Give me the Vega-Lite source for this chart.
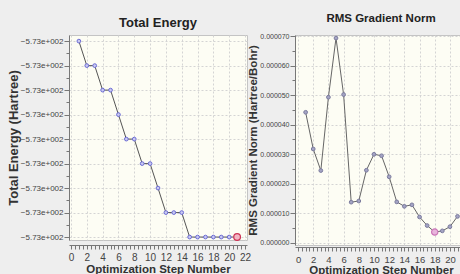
{
  "$schema": "https://vega.github.io/schema/vega-lite/v6.json",
  "background": "#eeeeee",
  "padding": {"left": 6, "top": 12, "right": 0, "bottom": 0},
  "spacing": -5,
  "datasets": {
    "energy": [
      {"step": 1, "energy": -572.996},
      {"step": 2, "energy": -572.9965},
      {"step": 3, "energy": -572.9965},
      {"step": 4, "energy": -572.997},
      {"step": 5, "energy": -572.997},
      {"step": 6, "energy": -572.9975},
      {"step": 7, "energy": -572.998},
      {"step": 8, "energy": -572.998},
      {"step": 9, "energy": -572.9985},
      {"step": 10, "energy": -572.9985},
      {"step": 11, "energy": -572.999},
      {"step": 12, "energy": -572.9995},
      {"step": 13, "energy": -572.9995},
      {"step": 14, "energy": -572.9995},
      {"step": 15, "energy": -573.0},
      {"step": 16, "energy": -573.0},
      {"step": 17, "energy": -573.0},
      {"step": 18, "energy": -573.0},
      {"step": 19, "energy": -573.0},
      {"step": 20, "energy": -573.0},
      {"step": 21, "energy": -573.0}
    ],
    "rms": [
      {"step": 1, "rms": 0.0000442},
      {"step": 2, "rms": 0.0000318},
      {"step": 3, "rms": 0.0000245},
      {"step": 4, "rms": 0.0000493},
      {"step": 5, "rms": 0.0000693},
      {"step": 6, "rms": 0.0000502},
      {"step": 7, "rms": 0.0000138},
      {"step": 8, "rms": 0.0000142},
      {"step": 9, "rms": 0.0000246},
      {"step": 10, "rms": 0.00003},
      {"step": 11, "rms": 0.0000295},
      {"step": 12, "rms": 0.0000224},
      {"step": 13, "rms": 0.0000139},
      {"step": 14, "rms": 0.0000124},
      {"step": 15, "rms": 0.0000129},
      {"step": 16, "rms": 0.0000088},
      {"step": 17, "rms": 0.0000059},
      {"step": 18, "rms": 0.0000037},
      {"step": 19, "rms": 0.0000041},
      {"step": 20, "rms": 0.0000055},
      {"step": 21, "rms": 0.000009}
    ]
  },
  "config": {
    "view": {"stroke": "#c4c4c4", "fill": "#fdfdf4", "strokeWidth": 1},
    "axis": {
      "labelFont": "Liberation Sans",
      "titleFont": "Liberation Sans",
      "titleFontWeight": "bold",
      "titleColor": "#333333",
      "labelColor": "#444444",
      "domainColor": "#777777",
      "tickColor": "#777777",
      "gridColor": "#d4d4d4",
      "gridDash": [2, 2],
      "gridWidth": 1
    },
    "title": {"font": "Liberation Sans", "fontWeight": "bold", "color": "#222222", "anchor": "middle"}
  },
  "hconcat": [
    {
      "title": {"text": "Total Energy", "fontSize": 13, "offset": 5},
      "width": 178,
      "height": 205,
      "data": {"name": "energy"},
      "layer": [
        {
          "mark": {"type": "line", "color": "#555555", "strokeWidth": 1},
          "encoding": {
            "x": {
              "field": "step", "type": "quantitative",
              "scale": {"domain": [-0.25, 22.25], "nice": false, "zero": false},
              "axis": {
                "title": "Optimization Step Number", "titleFontSize": 11.5, "titlePadding": 1,
                "values": [0,0.5,1,1.5,2,2.5,3,3.5,4,4.5,5,5.5,6,6.5,7,7.5,8,8.5,9,9.5,10,10.5,11,11.5,12,12.5,13,13.5,14,14.5,15,15.5,16,16.5,17,17.5,18,18.5,19,19.5,20,20.5,21,21.5,22],
                "labelExpr": "datum.value % 2 == 0 ? format(datum.value, 'd') : ''",
                "grid": false, "offset": 5, "tickSize": 4, "labelPadding": 3, "labelFontSize": 10, "labelFlush": false
              }
            },
            "y": {
              "field": "energy", "type": "quantitative",
              "scale": {"domain": [-573.00006, -572.995875], "nice": false, "zero": false},
              "axis": {
                "title": "Total Energy (Hartree)", "titleFontSize": 13, "titlePadding": 0,
                "values": [-573.0, -572.9995, -572.999, -572.9985, -572.998, -572.9975, -572.997, -572.9965, -572.996],
                "labelExpr": "replace(format(datum.value, '.2e'), 'e+2', 'e+002')",
                "grid": true, "tickSize": 5, "labelPadding": 1, "labelFontSize": 8
              }
            }
          }
        },
        {
          "mark": {"type": "point", "shape": "circle", "filled": true, "fill": "#c9c9f2", "stroke": "#6b6bd4", "strokeWidth": 1, "size": 14, "opacity": 1},
          "encoding": {
            "x": {
              "field": "step", "type": "quantitative",
              "axis": {"orient": "bottom", "values": [0,2,4,6,8,10,12,14,16,18,20,22], "grid": true, "labels": false, "ticks": false, "domain": false, "title": null}
            },
            "y": {
              "field": "energy", "type": "quantitative",
              "axis": {"orient": "left", "values": [-572.99975, -572.99925, -572.99875, -572.99825, -572.99775, -572.99725, -572.99675, -572.99625], "grid": false, "labels": false, "domain": false, "tickSize": 3, "title": null}
            }
          }
        },
        {
          "transform": [{"filter": "datum.step == 21"}],
          "mark": {"type": "point", "shape": "circle", "filled": true, "fill": "#f2b6c4", "stroke": "#cc3355", "strokeWidth": 1.2, "size": 45, "opacity": 1},
          "encoding": {
            "x": {"field": "step", "type": "quantitative", "axis": null},
            "y": {"field": "energy", "type": "quantitative", "axis": null}
          }
        }
      ],
      "resolve": {"axis": {"x": "independent", "y": "independent"}}
    },
    {
      "title": {"text": "RMS Gradient Norm", "fontSize": 11.5, "offset": 8},
      "width": 172,
      "height": 210,
      "data": {"name": "rms"},
      "layer": [
        {
          "mark": {"type": "line", "color": "#666666", "strokeWidth": 1},
          "encoding": {
            "x": {
              "field": "step", "type": "quantitative",
              "scale": {"domain": [-0.4, 22.25], "nice": false, "zero": false},
              "axis": {
                "title": "Optimization Step Number", "titleFontSize": 11.5, "titlePadding": 1,
                "values": [0,0.5,1,1.5,2,2.5,3,3.5,4,4.5,5,5.5,6,6.5,7,7.5,8,8.5,9,9.5,10,10.5,11,11.5,12,12.5,13,13.5,14,14.5,15,15.5,16,16.5,17,17.5,18,18.5,19,19.5,20,20.5,21,21.5,22],
                "labelExpr": "datum.value % 2 == 0 ? format(datum.value, 'd') : ''",
                "grid": false, "offset": 2, "tickSize": 4, "labelPadding": 3, "labelFontSize": 9.5, "labelFlush": false
              }
            },
            "y": {
              "field": "rms", "type": "quantitative",
              "scale": {"domain": [-0.00000068, 0.00007034], "nice": false, "zero": false},
              "axis": {
                "title": "RMS Gradient Norm (Hartree/Bohr)", "titleFontSize": 11.5, "titlePadding": 1,
                "values": [0, 0.00001, 0.00002, 0.00003, 0.00004, 0.00005, 0.00006, 0.00007],
                "format": ".6f",
                "grid": true, "tickSize": 5, "labelPadding": 1, "labelFontSize": 7
              }
            }
          }
        },
        {
          "mark": {"type": "point", "shape": "circle", "filled": true, "fill": "#a4a4c4", "stroke": "#7c7c9e", "strokeWidth": 1, "size": 14, "opacity": 1},
          "encoding": {
            "x": {
              "field": "step", "type": "quantitative",
              "axis": {"orient": "bottom", "values": [0,2,4,6,8,10,12,14,16,18,20,22], "grid": true, "labels": false, "ticks": false, "domain": false, "title": null}
            },
            "y": {
              "field": "rms", "type": "quantitative",
              "axis": {"orient": "left", "values": [0.000005, 0.000015, 0.000025, 0.000035, 0.000045, 0.000055, 0.000065], "grid": false, "labels": false, "domain": false, "tickSize": 3, "title": null}
            }
          }
        },
        {
          "transform": [{"filter": "datum.step == 18"}],
          "mark": {"type": "point", "shape": "circle", "filled": true, "fill": "#e8b4dc", "stroke": "#cc77b8", "strokeWidth": 1.2, "size": 40, "opacity": 1},
          "encoding": {
            "x": {"field": "step", "type": "quantitative", "axis": null},
            "y": {"field": "rms", "type": "quantitative", "axis": null}
          }
        }
      ],
      "resolve": {"axis": {"x": "independent", "y": "independent"}}
    }
  ]
}
